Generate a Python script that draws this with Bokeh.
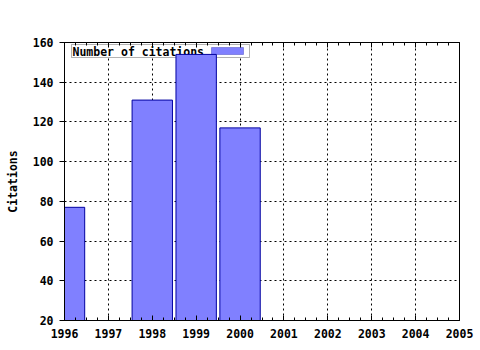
from bokeh.plotting import figure
from bokeh.models import (ColumnDataSource, LinearAxis, SingleIntervalTicker,
                          Label, BoxAnnotation, Range1d)
from bokeh.embed import file_html
from bokeh.resources import INLINE

years = [1996, 1998, 1999, 2000]
citations = [77, 131, 154, 117]
series_name = "Number of citations"
y_label = "Citations"

FONT = "DejaVu Sans Mono"
src = ColumnDataSource(dict(x=years, top=citations))

p = figure(width=480, height=350, output_backend="svg", toolbar_location=None,
           x_range=Range1d(1996, 2005), y_range=Range1d(20, 160),
           min_border_left=64, min_border_right=21, min_border_top=42,
           min_border_bottom=30)
p.outline_line_color = "black"
p.outline_line_width = 1
p.background_fill_color = "white"
p.border_fill_color = "white"

p.xaxis.ticker = SingleIntervalTicker(interval=1, num_minor_ticks=4)
p.yaxis.ticker = SingleIntervalTicker(interval=20, num_minor_ticks=0)

for g in p.grid:
    g.grid_line_color = "black"
    g.grid_line_dash = "2 3"
    g.grid_line_width = 1
p.xgrid.ticker = SingleIntervalTicker(interval=1)

xa = p.xaxis[0]
xa.major_tick_in = 5
xa.major_tick_out = 0
xa.minor_tick_in = 3
xa.minor_tick_out = 0
xa.axis_line_color = "black"
xa.major_label_text_font = FONT
xa.major_label_text_font_style = "bold"
xa.major_label_text_font_size = "11.5px"
xa.major_label_text_color = "black"
xa.major_label_standoff = 8

ya = p.yaxis[0]
ya.major_tick_in = 0
ya.major_tick_out = 5
ya.minor_tick_in = 0
ya.minor_tick_out = 0
ya.major_label_text_font = FONT
ya.major_label_text_font_style = "bold"
ya.major_label_text_font_size = "11.5px"
ya.major_label_text_color = "black"
ya.major_label_standoff = 6
ya.axis_label = y_label
ya.axis_label_text_font = FONT
ya.axis_label_text_font_style = "bold"
ya.axis_label_text_font_size = "11.5px"
ya.axis_label_text_color = "black"
ya.axis_label_standoff = 10

top_axis = LinearAxis(ticker=SingleIntervalTicker(interval=1, num_minor_ticks=4),
                      major_tick_in=5, major_tick_out=0, minor_tick_in=3,
                      minor_tick_out=0, major_label_text_color=None,
                      major_label_text_font_size="8px",
                      axis_line_color="black")
p.add_layout(top_axis, "above")

# legend (drawn under the bars, above the grid)
box = BoxAnnotation(left=7, right=185, top=276, bottom=263,
                    left_units="screen", right_units="screen",
                    top_units="screen", bottom_units="screen",
                    fill_color="white", fill_alpha=1, line_color="black",
                    line_width=1, level="underlay")
p.add_layout(box)
lbl = Label(x=8, y=262, x_units="screen", y_units="screen", text=series_name,
            text_font=FONT, text_font_style="bold", text_font_size="11.5px",
            text_color="black", level="underlay")
p.add_layout(lbl)
sw = BoxAnnotation(left=147, right=179, top=273, bottom=266,
                   left_units="screen", right_units="screen",
                   top_units="screen", bottom_units="screen",
                   fill_color="#8080ff", fill_alpha=1, line_color="#0000a0",
                   line_width=1, level="underlay")
p.add_layout(sw)

p.vbar(x="x", top="top", bottom=20, width=0.92, source=src,
       fill_color="#8080ff", line_color="#0000a0", line_width=1)

open("out.html", "w").write(file_html(p, INLINE))
